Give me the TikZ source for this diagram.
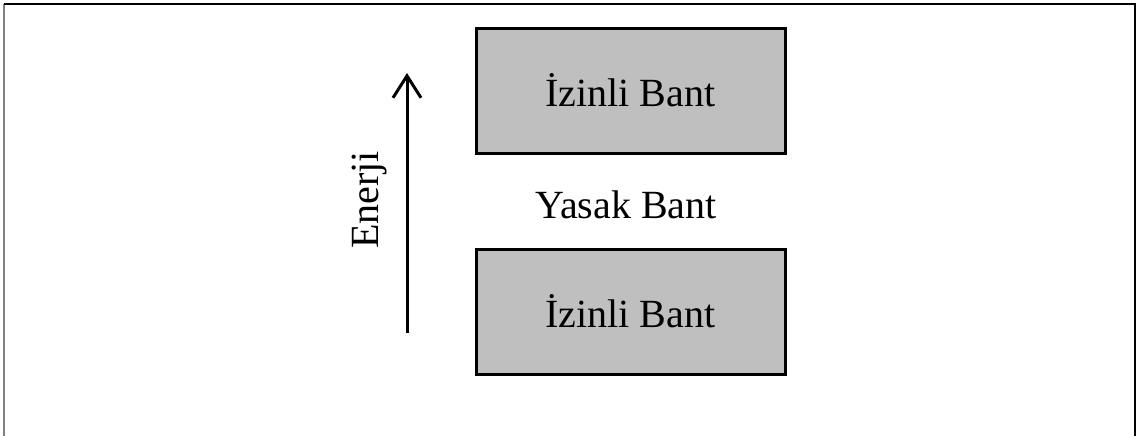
\documentclass[tikz,border=0pt]{standalone}
\usepackage{fontspec}
\setmainfont{Liberation Serif}
\usetikzlibrary{arrows.meta,positioning}

\begin{document}
\begin{tikzpicture}[x=0.5pt,y=-0.5pt,node distance=46.5pt,
  band/.style={draw,line width=1.5pt,fill=gray!50,minimum width=154.5pt,minimum height=62.5pt,font=\fontsize{20}{24}\selectfont},
  lbl/.style={font=\fontsize{20}{24}\selectfont}]
  \useasboundingbox (0,0) rectangle (1142,436);
  % frame
  \draw[gray,line width=1pt] (4,436) -- (4,4);
  \draw[line width=1pt] (4,4) -- (1135,4) -- (1135,436);
  \node[band] (upper) at (630.5,90.5) {İzinli Bant};
  \node[band] (lower) [below=of upper] {İzinli Bant};
  \node[lbl] (gap) at (626,205) {Yasak Bant};
  \coordinate (ebot) at (407,333);
  \coordinate (etop) at (407,73);
  \draw[line width=1.5pt,-{Straight Barb[length=11pt,width=14pt]}] (ebot) -- (etop);
  \node[lbl,rotate=90] (energy) at (370,200) {Enerji};
\end{tikzpicture}
\end{document}
